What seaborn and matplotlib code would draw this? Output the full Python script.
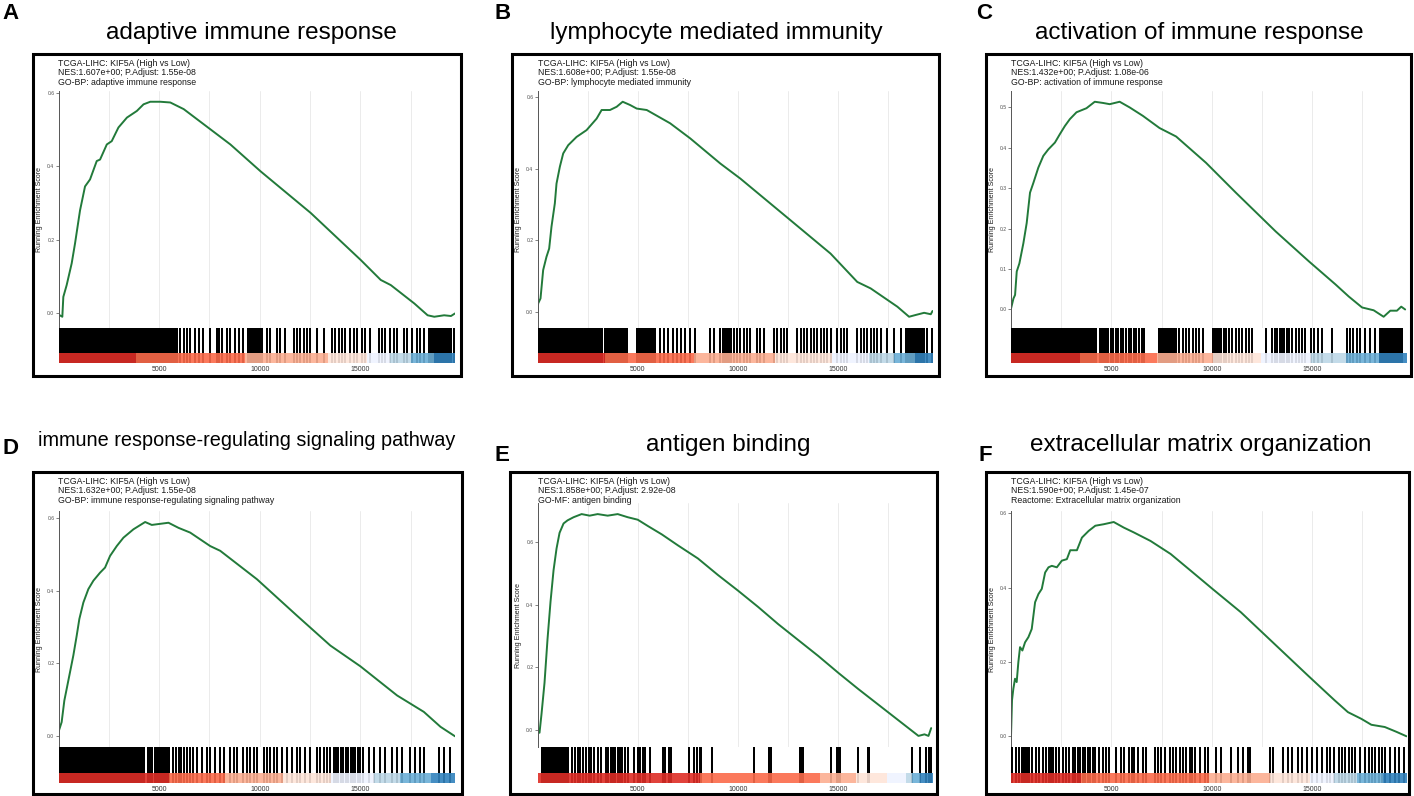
import numpy as np
import pandas as pd
import matplotlib
matplotlib.use("Agg")
import matplotlib.pyplot as plt
from matplotlib.patches import Rectangle
import seaborn as sns

sns.set_theme(style="white")
plt.rcParams['font.family'] = ['Liberation Sans', 'DejaVu Sans']

W, H = 1414, 796
N_GENES = 19700

# ---- values ----
letters = ["A", "B", "C", "D", "E", "F"]
titles = ["adaptive immune response", "lymphocyte mediated immunity", "activation of immune response",
          "immune response-regulating signaling pathway", "antigen binding", "extracellular matrix organization"]
header = "TCGA-LIHC: KIF5A (High vs Low)"
nes = ["1.607e+00", "1.608e+00", "1.432e+00", "1.632e+00", "1.858e+00", "1.590e+00"]
p_adjust = ["1.55e-08", "1.55e-08", "1.08e-06", "1.55e-08", "2.92e-08", "1.45e-07"]
terms = ["GO-BP: adaptive immune response", "GO-BP: lymphocyte mediated immunity",
         "GO-BP: activation of immune response", "GO-BP: immune response-regulating signaling pathway",
         "GO-MF: antigen binding", "Reactome: Extracellular matrix organization"]

# running enrichment score curves (rank, score)
es_x_a = [0, 190, 240, 406, 655, 821, 1070, 1318, 1567, 1900, 2065, 2400, 2645, 2977, 3400, 3893, 4225, 4560,
          5058, 5555, 6220, 7550, 8540, 10040, 12530, 15020, 16010, 16510, 17680, 18340, 18670, 19160, 19500, 19700]
es_y_a = [-0.003, -0.009, 0.045, 0.077, 0.136, 0.19, 0.28, 0.345, 0.364, 0.414, 0.418, 0.459, 0.468, 0.505, 0.532,
          0.55, 0.568, 0.575, 0.575, 0.573, 0.555, 0.5, 0.459, 0.386, 0.273, 0.145, 0.091, 0.077, 0.027, -0.005,
          -0.009, -0.005, -0.007, 0.0]
es_x_b = [0, 32, 150, 282, 448, 582, 698, 865, 948, 1115, 1282, 1532, 1948, 2448, 2948, 3198, 3615, 3948, 4248,
          4615, 4948, 5448, 6615, 7615, 9115, 10115, 12615, 14615, 15948, 16615, 17948, 18532, 18865, 19282, 19615, 19700]
es_y_b = [0.0, 0.024, 0.038, 0.117, 0.154, 0.177, 0.238, 0.303, 0.358, 0.405, 0.442, 0.465, 0.488, 0.507, 0.539,
          0.563, 0.563, 0.572, 0.586, 0.577, 0.567, 0.563, 0.526, 0.484, 0.414, 0.372, 0.256, 0.163, 0.084, 0.066,
          0.015, -0.013, -0.008, -0.002, -0.006, 0.003]
es_x_c = [0, 121, 203, 286, 418, 617, 782, 947, 1113, 1361, 1609, 1857, 2188, 2436, 2684, 2932, 3263, 3759, 4172,
          4586, 4917, 5413, 5910, 6571, 7398, 8225, 9713, 11201, 13186, 14840, 16163, 16825, 17486, 18065, 18561,
          18892, 19223, 19438, 19633]
es_y_c = [0.002, 0.027, 0.036, 0.094, 0.114, 0.164, 0.214, 0.289, 0.313, 0.351, 0.38, 0.396, 0.413, 0.434, 0.454,
          0.471, 0.488, 0.498, 0.514, 0.511, 0.508, 0.514, 0.5, 0.479, 0.449, 0.428, 0.363, 0.289, 0.193, 0.119,
          0.062, 0.032, 0.005, -0.002, -0.018, -0.003, -0.003, 0.007, 0.0]
es_x_d = [0, 157, 290, 406, 572, 738, 904, 1036, 1235, 1484, 1733, 2065, 2313, 2562, 2894, 3226, 3723, 4304, 4635,
          5050, 5464, 5962, 6542, 7537, 8035, 9859, 11849, 13507, 15000, 16824, 18151, 18980, 19700]
es_y_d = [0.012, 0.039, 0.098, 0.13, 0.176, 0.222, 0.276, 0.322, 0.367, 0.404, 0.427, 0.449, 0.463, 0.495, 0.522,
          0.545, 0.568, 0.588, 0.58, 0.583, 0.586, 0.572, 0.559, 0.522, 0.509, 0.431, 0.331, 0.249, 0.192, 0.112,
          0.067, 0.026, 0.0]
es_x_e = [0, 100, 200, 350, 500, 650, 800, 950, 1100, 1300, 1500, 1800, 2200, 2600, 3000, 3500, 4000, 4500, 5000,
          5500, 6200, 7000, 8000, 9000, 10000, 11000, 12000, 13000, 14000, 15000, 16000, 17000, 18000, 18700,
          19000, 19300, 19500, 19634]
es_y_e = [0.0, -0.01, 0.05, 0.15, 0.29, 0.41, 0.51, 0.58, 0.63, 0.66, 0.67, 0.68, 0.69, 0.685, 0.69, 0.685, 0.69,
          0.68, 0.672, 0.652, 0.625, 0.59, 0.548, 0.495, 0.445, 0.393, 0.338, 0.287, 0.236, 0.182, 0.13, 0.08,
          0.03, -0.005, -0.02, -0.015, -0.02, 0.005]
es_x_f = [0, 50, 117, 200, 283, 367, 450, 567, 700, 867, 1033, 1200, 1367, 1533, 1700, 1867, 2033, 2283, 2533,
          2783, 2950, 3283, 3533, 3867, 4200, 4617, 5117, 5617, 6117, 6950, 7950, 8950, 10033, 11450, 13117,
          14783, 16117, 16783, 17450, 17950, 18617, 19200, 19700]
es_y_f = [0.0, 0.097, 0.128, 0.155, 0.146, 0.2, 0.24, 0.231, 0.253, 0.267, 0.289, 0.361, 0.383, 0.397, 0.441,
          0.455, 0.459, 0.455, 0.473, 0.477, 0.501, 0.501, 0.535, 0.553, 0.567, 0.571, 0.577, 0.562, 0.549, 0.526,
          0.491, 0.446, 0.397, 0.334, 0.249, 0.164, 0.097, 0.065, 0.047, 0.031, 0.025, 0.012, 0.0]

# gene set hit positions in the ranked list
hits_a = [30, 90, 160, 230, 300, 370, 440, 510, 580, 650, 720, 790, 860, 930, 1000, 1070, 1140, 1210, 1280,
          1380, 1450, 1560, 1640, 1720, 1800, 1870, 1950, 2040, 2130, 2200, 2270, 2340, 2420, 2490, 2560, 2640,
          2710, 2780, 2850, 2930, 3000, 3080, 3150, 3220, 3300, 3370, 3440, 3520, 3590, 3660, 3740, 3810, 3880,
          3960, 4030, 4100, 4180, 4260, 4330, 4410, 4480, 4600, 4700, 4780, 4850, 4950, 5050, 5120, 5230, 5330,
          5420, 5520, 5620, 5700, 5800, 5900, 6040, 6240, 6380, 6540, 6790, 6960, 7200, 7540, 7870, 7950, 8120,
          8360, 8530, 8780, 8950, 9190, 9440, 9530, 9610, 9690, 9780, 9860, 9940, 10020, 10110, 10350, 10520,
          10850, 11020, 11270, 11680, 11850, 12010, 12180, 12340, 12510, 12840, 13170, 13590, 13750, 13920, 14090,
          14250, 14500, 14670, 14830, 15080, 15250, 15490, 15910, 16070, 16240, 16490, 16660, 16820, 17150, 17320,
          17570, 17820, 17980, 18150, 18400, 18480, 18570, 18650, 18730, 18820, 18900, 18980, 19070, 19150,
          19230, 19320, 19400, 19480, 19640]
hits_b = [40, 110, 180, 250, 320, 390, 460, 530, 600, 670, 740, 810, 880, 950, 1020, 1090, 1160, 1230, 1300,
          1370, 1440, 1510, 1580, 1650, 1720, 1800, 1880, 1960, 2040, 2120, 2200, 2280, 2360, 2440, 2520, 2600,
          2680, 2760, 2840, 2920, 3000, 3080, 3160, 3240, 3360, 3450, 3540, 3630, 3720, 3810, 3900, 3990, 4080,
          4170, 4260, 4350, 4440, 4950, 5040, 5130, 5220, 5310, 5400, 5490, 5580, 5680, 5780, 5880, 6120, 6320,
          6530, 6750, 6950, 7150, 7370, 7620, 7870, 8620, 8780, 9120, 9230, 9340, 9450, 9560, 9670, 9780, 9950,
          10120, 10290, 10450, 10620, 10950, 11120, 11290, 11790, 11950, 12120, 12290, 12450, 12950, 13120,
          13290, 13450, 13620, 13790, 13960, 14130, 14300, 14460, 14620, 14950, 15120, 15290, 15450, 15950,
          16120, 16290, 16450, 16620, 16790, 16950, 17120, 17450, 17790, 18120, 18370, 18450, 18530, 18620,
          18700, 18780, 18870, 18950, 19030, 19120, 19200, 19290, 19450, 19680]
hits_c = [40, 110, 180, 250, 320, 390, 460, 530, 600, 670, 740, 810, 880, 950, 1020, 1090, 1160, 1230, 1300,
          1370, 1440, 1510, 1580, 1660, 1740, 1820, 1900, 1980, 2060, 2140, 2220, 2300, 2380, 2460, 2540, 2620,
          2700, 2780, 2860, 2940, 3020, 3090, 3180, 3270, 3360, 3450, 3550, 3650, 3750, 3850, 3950, 4050, 4150,
          4250, 4420, 4520, 4620, 4720, 4850, 4980, 5100, 5220, 5340, 5460, 5570, 5740, 5860, 5990, 6120, 6250,
          6380, 6510, 6640, 7390, 7480, 7570, 7660, 7750, 7840, 7930, 8020, 8110, 8210, 8390, 8560, 8720, 8890,
          9050, 9220, 9380, 9540, 10040, 10150, 10260, 10370, 10480, 10590, 10700, 10860, 11030, 11200, 11360,
          11530, 11700, 11860, 12020, 12680, 13020, 13140, 13260, 13380, 13500, 13620, 13740, 13840, 14010,
          14180, 14340, 14510, 14660, 14920, 15110, 15300, 15490, 15990, 16730, 16900, 17060, 17230, 17400,
          17650, 17900, 18150, 18390, 18480, 18570, 18660, 18750, 18840, 18930, 19020, 19110, 19200, 19290,
          19380, 19460]
hits_d = [50, 120, 190, 260, 330, 400, 470, 540, 610, 680, 750, 820, 890, 960, 1030, 1100, 1170, 1240, 1310,
          1380, 1450, 1520, 1600, 1680, 1760, 1840, 1920, 2000, 2080, 2160, 2240, 2320, 2400, 2480, 2560, 2640,
          2720, 2800, 2880, 2960, 3040, 3120, 3200, 3280, 3360, 3440, 3520, 3600, 3680, 3760, 3840, 3920, 4000,
          4080, 4160, 4240, 4470, 4570, 4670, 4770, 4870, 4970, 5070, 5170, 5270, 5370, 5470, 5710, 5840, 5970,
          6100, 6230, 6360, 6540, 6700, 6870, 7120, 7370, 7540, 7780, 8030, 8200, 8530, 8700, 8860, 9190, 9360,
          9530, 9690, 9860, 10190, 10350, 10520, 10690, 10850, 11100, 11350, 11600, 11850, 12010, 12260, 12510,
          12840, 13010, 13170, 13340, 13500, 13670, 13790, 13910, 14030, 14150, 14270, 14390, 14510, 14630,
          14750, 14870, 14990, 15110, 15410, 15660, 15990, 16240, 16570, 16820, 17070, 17480, 17730, 17980,
          18150, 18890, 19140, 19470]
hits_e = [220, 290, 360, 430, 500, 570, 640, 710, 780, 850, 920, 990, 1060, 1130, 1200, 1270, 1340, 1410, 1530,
          1700, 1860, 2000, 2110, 2280, 2440, 2560, 2690, 2820, 3020, 3150, 3430, 3510, 3650, 3760, 3880, 4010,
          4090, 4210, 4340, 4500, 4830, 5000, 5130, 5250, 5360, 5630, 6240, 6350, 6570, 6680, 7560, 7800, 7970,
          8100, 8170, 8710, 10820, 11570, 11630, 13080, 13170, 13250, 14650, 14930, 15030, 15100, 15970, 16470,
          16550, 18690, 19100, 19390, 19520, 19630]
hits_f = [70, 230, 400, 570, 650, 730, 820, 900, 1070, 1230, 1400, 1570, 1730, 1900, 1980, 2100, 2230, 2400,
          2570, 2730, 2900, 3070, 3200, 3320, 3430, 3570, 3700, 3820, 3930, 4070, 4200, 4400, 4570, 4730, 4900,
          5230, 5480, 5650, 5900, 6030, 6150, 6320, 6570, 6730, 7150, 7320, 7480, 7650, 7900, 8070, 8230, 8400,
          8570, 8730, 8900, 9030, 9150, 9400, 9650, 9820, 10230, 10480, 10980, 11320, 11570, 11820, 11900,
          12900, 13070, 13570, 13820, 13980, 14320, 14480, 14730, 14980, 15230, 15480, 15730, 15900, 16070,
          16320, 16480, 16650, 16820, 16980, 17150, 17400, 17650, 17820, 17980, 18150, 18320, 18480, 18650,
          18900, 19150, 19320, 19570]

# ranked list colour bar: segment edges (ranks) for 8 quantile blocks
bar_edges_a = [0, 3850, 9280, 13390, 15330, 16490, 17490, 18650, 19700]
bar_edges_b = [0, 3365, 7830, 11830, 14700, 16530, 17780, 18830, 19700]
bar_edges_c = [0, 3430, 7280, 10075, 12440, 14920, 16690, 18310, 19700]
bar_edges_d = [0, 5500, 8250, 11135, 13560, 15660, 16990, 18530, 19700]
bar_edges_e = [0, 8080, 14070, 15860, 17430, 18370, 18690, 19060, 19700]
bar_edges_f = [0, 3490, 9850, 12900, 14900, 16070, 17240, 18540, 19700]
bar_colors = ["#DE2D26", "#FB6A4A", "#FCAE91", "#FEE5D9", "#EFF3FF", "#BDD7E7", "#6BAED6", "#3182BD"]

es_x = [es_x_a, es_x_b, es_x_c, es_x_d, es_x_e, es_x_f]
es_y = [es_y_a, es_y_b, es_y_c, es_y_d, es_y_e, es_y_f]
hits = [hits_a, hits_b, hits_c, hits_d, hits_e, hits_f]
bar_edges = [bar_edges_a, bar_edges_b, bar_edges_c, bar_edges_d, bar_edges_e, bar_edges_f]

# ---- layout in pixels ----
box_px = [(33, 54, 461, 376), (512, 54, 939, 376), (986, 54, 1411, 376),
          (33, 472, 462, 794), (510, 472, 937, 794), (986, 472, 1409, 794)]
plot_x_px = [(58.5, 455), (537.5, 932.5), (1011, 1406.5)] * 2
row_y_px = [(91, 327.5, 363.3)] * 3 + [(511.3, 747, 783), (503, 747, 783), (511.3, 747, 783)]
letter_px = [(2, 3), (494, 3), (976, 3), (2, 438), (494, 445), (978, 445)]
title_px = [(251, 39.5), (716, 39.5), (1199, 39.5), (247, 446), (728, 451), (1201, 451)]
title_size = [17.5, 17.5, 17.5, 14.3, 17.5, 17.5]

line_color = "#227a3a"

fig = plt.figure(figsize=(W / 100, H / 100), dpi=100)


def px_axes(l, t, r, b):
    return fig.add_axes([l / W, 1 - b / H, (r - l) / W, (b - t) / H])


for i in range(6):
    x0, x1 = plot_x_px[i]
    top, split, bottom = row_y_px[i]

    # running enrichment score panel
    ax = px_axes(x0, top, x1, split)
    df = pd.DataFrame({"rank": es_x[i], "es": es_y[i]})
    sns.lineplot(data=df, x="rank", y="es", ax=ax, color=line_color, linewidth=1.4)
    ax.set_xlim(0, N_GENES)
    ax.margins(y=0.05)
    ax.autoscale_view()
    ax.set_xticks(np.arange(2500, N_GENES, 2500))
    ax.grid(True, axis="x", color="#ebebeb", linewidth=0.7)
    ax.tick_params(axis="x", length=0, labelbottom=False)
    step = 0.1 if i == 2 else 0.2
    ylo, yhi = ax.get_ylim()
    yt = np.round(np.arange(0, yhi + 1e-9, step), 1)
    ax.set_yticks(yt)
    ax.set_yticklabels([f"{v:.1f}" for v in yt])
    ax.set_ylim(ylo, yhi)
    ax.tick_params(axis="y", left=True, labelsize=3.6, labelcolor="#4d4d4d", color="#4d4d4d",
                   length=2, width=0.5, pad=1)
    for s in ["top", "right", "bottom"]:
        ax.spines[s].set_visible(False)
    ax.spines["left"].set_color("#555555")
    ax.spines["left"].set_linewidth(0.7)
    ax.set_xlabel("")
    ax.set_ylabel("Running Enrichment Score", fontsize=5, labelpad=3, color="#1a1a1a")
    ax.patch.set_alpha(0)

    # hit rug + ranked list colour bar
    rax = px_axes(x0, split, x1, bottom)
    rax.vlines(hits[i], 0, 1, color="black", linewidth=1.1, zorder=1, antialiased=False)
    edges = np.array(bar_edges[i])
    rax.bar(edges[:-1], 0.28, width=np.diff(edges), bottom=0, align="edge",
            color=bar_colors, alpha=0.9, linewidth=0, zorder=3)
    rax.set_xlim(0, N_GENES)
    rax.set_ylim(0, 1)
    rax.set_yticks([])
    rax.set_xticks([5000, 10000, 15000])
    rax.set_xticklabels(["5000", "10000", "15000"])
    rax.tick_params(axis="x", length=0, labelsize=5, labelcolor="#333333", pad=2)
    for s in rax.spines.values():
        s.set_visible(False)
    rax.patch.set_alpha(0)

    # frame around the panel
    l, t, r, b = box_px[i]
    fig.add_artist(Rectangle((l / W, 1 - b / H), (r - l) / W, (b - t) / H, transform=fig.transFigure,
                             fill=False, edgecolor="black", linewidth=2.2))

    # annotation
    fig.text(x0 / W, 1 - (t + 4.5) / H, f"{header}\nNES:{nes[i]}; P.Adjust: {p_adjust[i]}\n{terms[i]}",
             fontsize=6.3, ha="left", va="top", linespacing=1.12, color="#1a1a1a")

    # title and panel letter
    tx, ty = title_px[i]
    fig.text(tx / W, 1 - ty / H, titles[i], fontsize=title_size[i], ha="center", va="baseline", color="black")
    lx, ly = letter_px[i]
    fig.text(lx / W, 1 - ly / H, letters[i], fontsize=16, fontweight="bold", ha="left", va="top", color="black")

fig.savefig("out.png", dpi=100, facecolor="white")
